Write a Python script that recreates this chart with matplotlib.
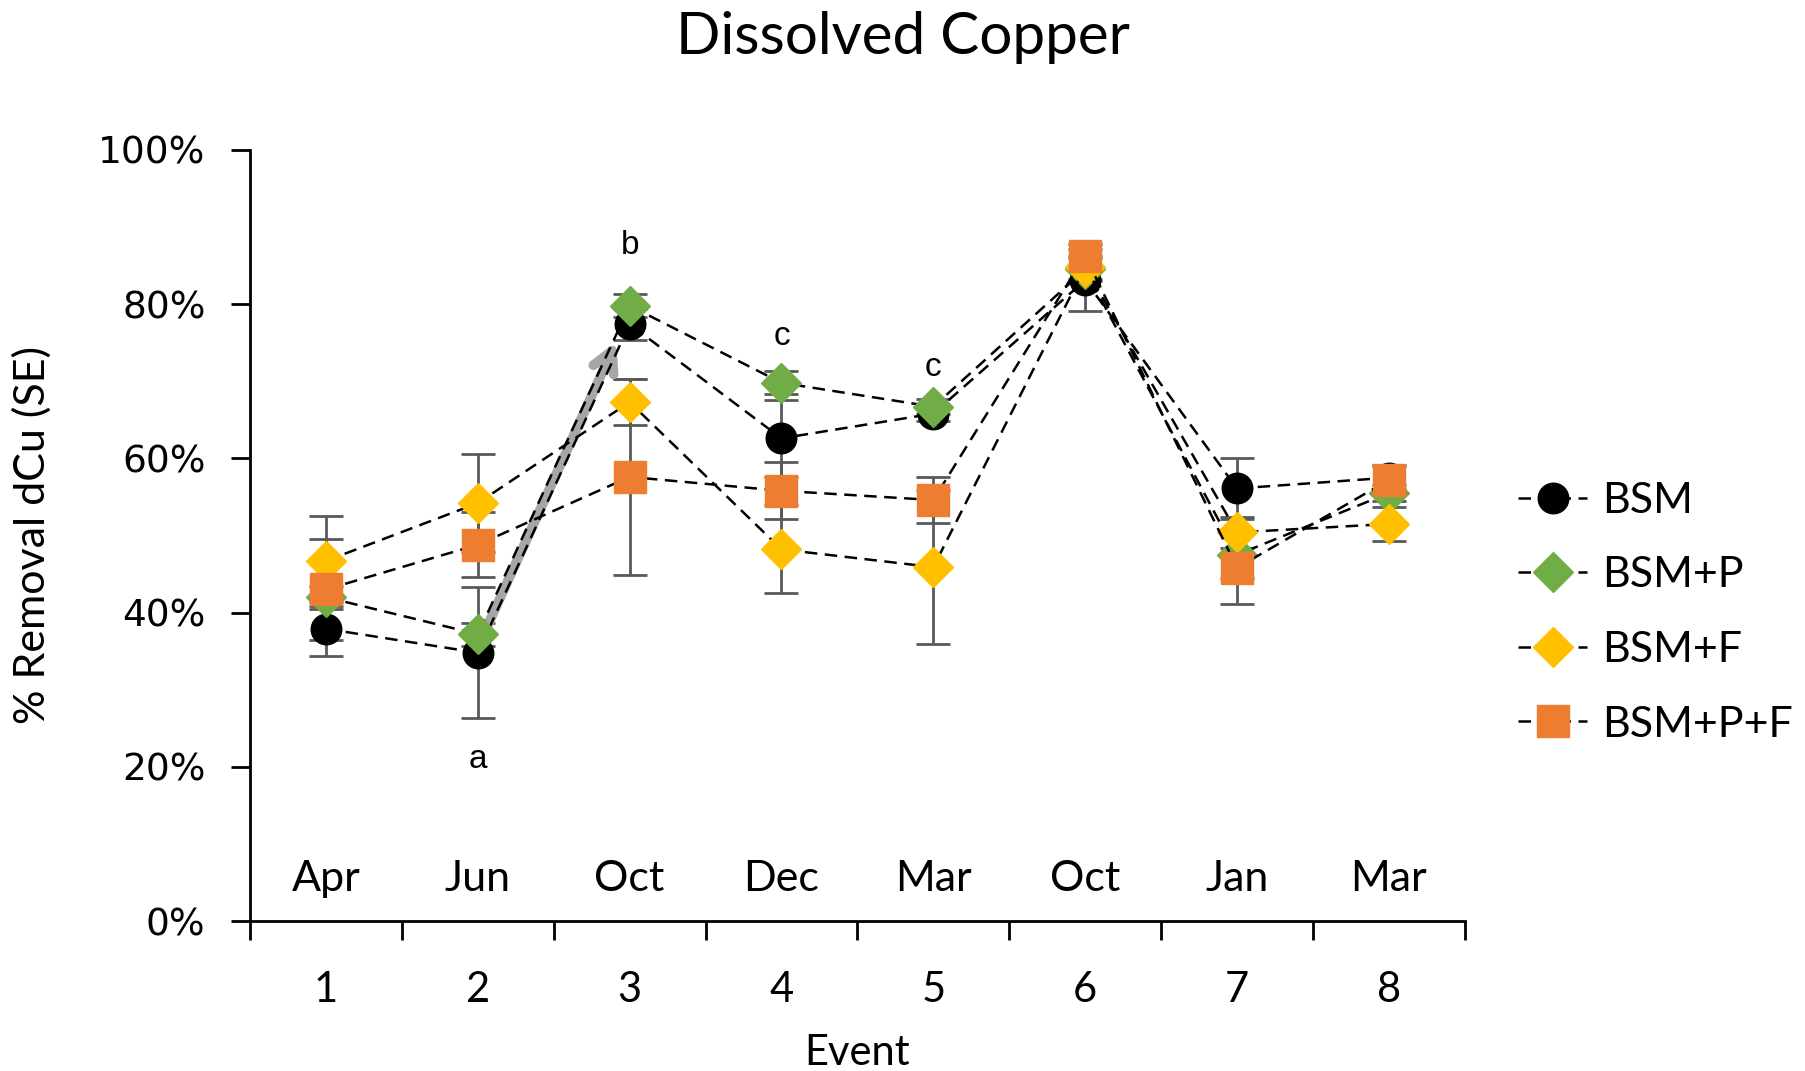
import numpy as np
import matplotlib.pyplot as plt
from matplotlib.ticker import FuncFormatter, FixedLocator

# データ
events = [1, 2, 3, 4, 5, 6, 7, 8]
months = ["Apr", "Jun", "Oct", "Dec", "Mar", "Oct", "Jan", "Mar"]
series_names = ["BSM", "BSM+P", "BSM+F", "BSM+P+F"]

bsm = [37.9, 34.8, 77.4, 62.6, 65.8, 83.1, 56.1, 57.5]
bsm_p = [42.0, 37.2, 79.8, 69.8, 66.7, 84.5, 47.5, 55.5]
bsm_f = [46.7, 54.2, 67.3, 48.2, 45.9, 84.8, 50.4, 51.5]
bsm_pf = [43.0, 48.8, 57.6, 55.8, 54.6, 86.3, 45.8, 57.2]

bsm_se = [3.5, 8.5, 2.0, 5.0, 1.0, 4.0, 4.0, 1.5]
bsm_p_se = [1.5, 1.5, 1.5, 1.5, 1.0, 1.5, 3.0, 1.0]
bsm_f_se = [5.8, 6.4, 3.0, 5.7, 10.0, 1.5, 2.0, 2.2]
bsm_pf_se = [6.6, 4.2, 12.7, 3.7, 3.0, 1.5, 4.7, 1.9]

letters = ["a", "b", "c", "c"]
letter_x = [2, 3, 4, 5]
letter_y = [20.9, 87.6, 75.8, 71.8]

# スタイル
values = [bsm, bsm_p, bsm_f, bsm_pf]
errors = [bsm_se, bsm_p_se, bsm_f_se, bsm_pf_se]
markers = ["o", "D", "D", "s"]
colors = ["black", "#70ad47", "#ffc000", "#ed7d31"]
msizes = [22, 20, 20, 23]

fig = plt.figure(figsize=(18.05, 10.71), dpi=100)
ax = fig.add_axes([0.1385, 0.140, 0.673, 0.720])

for v, e in zip(values, errors):
    ax.errorbar(events, v, yerr=e, fmt="none", ecolor="#595959",
                elinewidth=2, capsize=12, capthick=2, zorder=1)

handles = []
for i, v in enumerate(values):
    h, = ax.plot(events, v, linestyle=(0, (5, 3)), color="black", lw=1.8,
                 marker=markers[i], markersize=msizes[i],
                 markerfacecolor=colors[i], markeredgecolor=colors[i],
                 label=series_names[i], zorder=3 + i)
    handles.append(h)

# 灰色の矢印
ax.annotate("", xy=(2.92, 75.5), xytext=(2.0, 35.5),
            arrowprops=dict(arrowstyle="->,head_length=1.5,head_width=0.8",
                            color="#a6a6a6", lw=7), zorder=2.5)

for t, x, y in zip(letters, letter_x, letter_y):
    ax.text(x, y, t, ha="center", va="center", fontsize=24,
            family="Liberation Sans")

for x, m in zip(events, months):
    ax.text(x, 5.5, m, ha="center", va="center", fontsize=31, family="Lato")

ax.set_xlim(0.5, 8.5)
ax.set_ylim(0, 100)
ax.spines["top"].set_visible(False)
ax.spines["right"].set_visible(False)
ax.spines["left"].set_linewidth(2)
ax.spines["bottom"].set_linewidth(2)

ax.yaxis.set_major_locator(FixedLocator([0, 20, 40, 60, 80, 100]))
ax.yaxis.set_major_formatter(FuncFormatter(lambda y, p: "%d%%" % y))
ax.tick_params(axis="y", length=14, width=2, labelsize=27, pad=18)
for lab in ax.get_yticklabels():
    lab.set_family("DejaVu Sans")

ax.xaxis.set_major_locator(FixedLocator(np.arange(0.5, 9, 1)))
ax.xaxis.set_minor_locator(FixedLocator(events))
ax.xaxis.set_major_formatter(FuncFormatter(lambda x, p: ""))
ax.xaxis.set_minor_formatter(FuncFormatter(lambda x, p: "%d" % x))
ax.tick_params(axis="x", which="major", length=14, width=2)
ax.tick_params(axis="x", which="minor", length=0, labelsize=30, pad=36)
for lab in ax.get_xticklabels(minor=True):
    lab.set_family("Lato")

ax.set_xlabel("Event", fontsize=30, family="Lato", labelpad=18)
ax.set_ylabel("% Removal dCu (SE)", fontsize=31, family="Lato")
ax.yaxis.set_label_coords(-0.163, 0.5)
fig.suptitle("Dissolved Copper", fontsize=42, family="Lato", y=0.99)

ax.legend(handles=handles, loc="center left", bbox_to_anchor=(1.012, 0.40),
          frameon=False, prop={"family": "Lato", "size": 31},
          handlelength=1.6, labelspacing=0.85, handletextpad=0.35)

fig.savefig("out.png", dpi=100)
